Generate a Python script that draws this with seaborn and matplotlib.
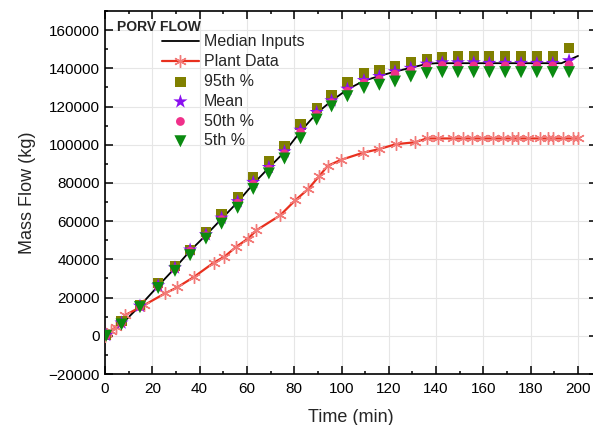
import numpy as np
import pandas as pd
import matplotlib
matplotlib.use("Agg")
import matplotlib.pyplot as plt
import seaborn as sns
from matplotlib.ticker import MultipleLocator

# Median inputs (black line)
med_t = [0, 7, 15, 22.8, 29.6, 36, 42.7, 49.3, 56.1, 62.7, 69.3, 75.9, 82.7, 89.5,
         95.8, 102.5, 109.5, 116, 122.6, 129.2, 136, 140, 193, 200]
med_v = [0, 6000, 16000, 26500, 35500, 44500, 52700, 61200, 70000, 79500, 88000, 96200,
         107000, 116500, 123000, 129000, 133500, 136000, 138300, 140300, 142300, 142700,
         142700, 146500]

# Plant data (red line with asterisks)
plant_t = [0, 2.5, 4.5, 8.5, 16.5, 25.5, 30.5, 37.5, 46, 50.5, 55.5, 60.5, 64, 74, 80.5,
           86, 90.5, 94.2, 99.8, 109, 115.8, 123, 131, 136, 141, 147, 151.5, 155, 159.3,
           164.2, 168.4, 172, 174.8, 179, 184, 187.5, 189.6, 193.8, 198, 200]
plant_v = [0, 2500, 4500, 10800, 16000, 22300, 25300, 30700, 38300, 41400, 46600, 50900,
           55200, 63000, 71000, 76900, 83500, 89000, 92100, 95800, 97700, 100300, 101300,
           103300, 103300, 103300, 103300, 103300, 103300, 103300, 103300, 103300, 103300,
           103300, 103300, 103300, 103300, 103300, 103300, 103300]

# Uncertainty analysis samples
samp_t = [0.5, 7, 14.8, 22.5, 29.6, 36, 42.7, 49.3, 56.1, 62.7, 69.3, 75.9, 82.7, 89.5,
          95.8, 102.5, 109.5, 116, 122.6, 129.3, 136, 142.6, 149.2, 155.9, 162.5, 169.2,
          175.9, 182.6, 189.3, 196.2]
p95 = [500, 7800, 16300, 27500, 36700, 44800, 54200, 63900, 72600, 83000, 91300, 99400,
       110600, 119300, 126200, 132800, 137500, 139300, 141300, 143000, 144900, 145800,
       146200, 146200, 146200, 146200, 146200, 146200, 146200, 150500]
mean = [300, 6800, 15600, 26300, 35600, 45000, 53000, 61700, 70300, 80400, 88200, 96400,
        107700, 117000, 123100, 129200, 133700, 135800, 138300, 140100, 142300, 143000,
        143000, 143000, 142700, 142700, 142700, 142700, 142700, 144100]
p50 = [200, 6500, 15200, 25800, 35000, 44300, 52300, 60800, 69400, 79300, 87200, 95300,
       106500, 115800, 122000, 128000, 132300, 134200, 137000, 138800, 141000, 141500,
       141300, 141300, 141300, 141300, 141300, 141300, 141300, 141800]
p5 = [0, 5900, 15000, 25000, 34000, 42200, 50900, 58700, 67000, 76900, 85000, 92800,
      103400, 113200, 120100, 125400, 129700, 131400, 133100, 135700, 137500, 138000,
      138000, 138000, 138000, 138000, 138000, 138000, 138000, 138000]

sns.set_style("ticks")
plt.rcParams['font.family'] = ['Liberation Sans', 'DejaVu Sans']

fig = plt.figure(figsize=(5.93, 4.25), dpi=100)
ax = fig.add_axes([0.177, 0.12, 0.8297, 0.854])

sns.lineplot(x=med_t, y=med_v, ax=ax, color='black', lw=1.3, label='Median Inputs',
             sort=False, zorder=3)
sns.lineplot(x=plant_t, y=plant_v, ax=ax, color='#e8301e', lw=1.6, marker=(6, 2, 0),
             markersize=9, markeredgecolor='#f27a78', markeredgewidth=1.0,
             label='Plant Data', sort=False, zorder=3)
sns.scatterplot(x=samp_t, y=p95, ax=ax, marker='s', s=55, color='#808000',
                edgecolor='none', label='95th %', zorder=4)
sns.scatterplot(x=samp_t, y=mean, ax=ax, marker='*', s=115, color='#8a10f0',
                edgecolor='none', label='Mean', zorder=4)
sns.scatterplot(x=samp_t, y=p50, ax=ax, marker='o', s=40, color='#f0308a',
                edgecolor='none', label='50th %', zorder=4)
sns.scatterplot(x=samp_t, y=p5, ax=ax, marker='v', s=75, color='#0a8a10',
                edgecolor='none', label='5th %', zorder=4)

ax.set_xlim(0, 208)
ax.set_ylim(-20000, 170000)
ax.xaxis.set_major_locator(MultipleLocator(20))
ax.xaxis.set_minor_locator(MultipleLocator(10))
ax.yaxis.set_major_locator(MultipleLocator(20000))
ax.yaxis.set_minor_locator(MultipleLocator(10000))
ax.set_xticks(np.arange(0, 201, 20))
ax.grid(True, which='major', color='#e6e6e6', lw=0.8)
ax.set_axisbelow(True)

ax.tick_params(which='both', direction='in', top=True, right=True, labelsize=11,
               width=1.1, colors='black')
ax.tick_params(which='major', length=5.5)
ax.tick_params(which='minor', length=2.5)
ax.tick_params(axis='x', pad=6)
for sp in ax.spines.values():
    sp.set_linewidth(1.2)
    sp.set_color('black')

ax.set_xlabel('Time (min)', fontsize=13, labelpad=9)
ax.set_ylabel('Mass Flow (kg)', fontsize=13, labelpad=9)

ax.text(0.024, 0.975, 'PORV FLOW', transform=ax.transAxes, fontsize=10,
        fontweight='bold', va='top', ha='left')

ax.legend(loc='upper left', bbox_to_anchor=(0.103, 0.953), frameon=False,
          fontsize=11.5, handlelength=2.3, handletextpad=0.3, labelspacing=0.3,
          borderaxespad=0)

fig.savefig('out.png', dpi=100)
